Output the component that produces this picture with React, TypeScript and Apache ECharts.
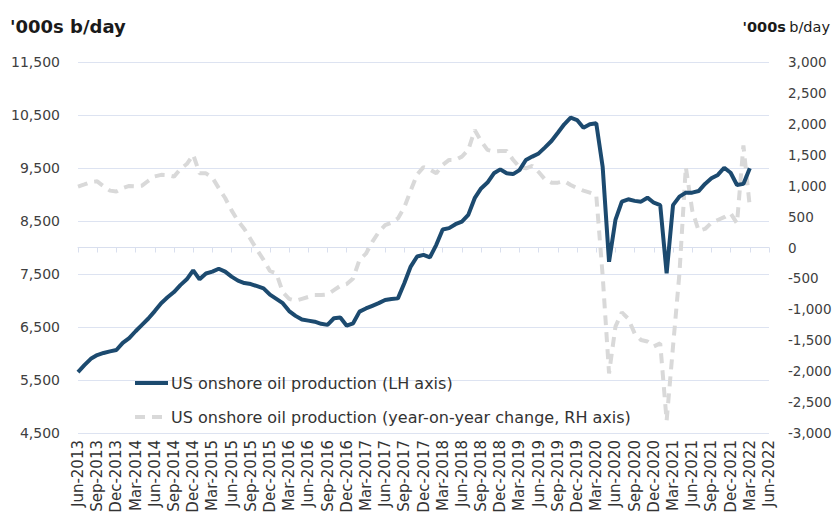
import React, { useEffect, useRef } from "react";
import * as echarts from "echarts";

const MONTH_NAMES = ["Jan", "Feb", "Mar", "Apr", "May", "Jun", "Jul", "Aug", "Sep", "Oct", "Nov", "Dec"];
// Monthly categories Jun-2013 .. Jun-2022
const months: string[] = [];
for (let y = 2013; y <= 2022; y++) {
  for (let m = 0; m < 12; m++) {
    if (y === 2013 && m < 5) continue;
    if (y === 2022 && m > 5) continue;
    months.push(`${MONTH_NAMES[m]}-${y}`);
  }
}

// US onshore oil production, '000s b/day (LH axis), Jun-2013 .. Mar-2022
const production: number[] = [
  5650, 5780, 5900, 5970, 6010, 6040, 6066, 6200, 6290, 6420,
  6540, 6660, 6800, 6950, 7060, 7160, 7290, 7400, 7570, 7400,
  7510, 7545, 7600, 7545, 7450, 7375, 7330, 7310, 7270, 7230,
  7110, 7030, 6950, 6800, 6710, 6640, 6620, 6600, 6560, 6540,
  6665, 6680, 6525, 6570, 6790, 6850, 6900, 6950, 7010, 7030,
  7040, 7325, 7640, 7830, 7860, 7815, 8050, 8340, 8365, 8440,
  8490, 8615, 8930, 9115, 9225, 9400, 9475, 9400, 9385, 9460,
  9650, 9715, 9775, 9890, 10010, 10165, 10325, 10450, 10405, 10260,
  10325, 10345, 9525, 7730, 8520, 8865, 8910, 8880, 8865, 8940,
  8845, 8800, 7515, 8800, 8960, 9035, 9035, 9065, 9200, 9305,
  9370, 9505, 9410, 9180, 9200, 9495,
];

// Year-on-year change, '000s b/day (RH axis)
const yoyChange: number[] = [
  984, 1020, 1060, 1070, 990, 920, 905, 960, 995, 990,
  1000, 1080, 1150, 1175, 1170, 1146, 1270, 1350, 1500, 1200,
  1200, 1130, 960, 800, 600, 430, 300, 130, -40, -200,
  -380, -420, -720, -830, -860, -830, -800, -770, -770, -760,
  -690, -620, -590, -500, -200, -100, 90, 250, 360, 400,
  470, 650, 920, 1180, 1300, 1260, 1200, 1335, 1416, 1416,
  1470, 1578, 1900, 1720, 1578, 1550, 1560, 1560, 1420, 1300,
  1281, 1320, 1220, 1100, 1049, 1049, 1075, 1011, 960, 919,
  887, 850, -450, -2036, -1280, -1050, -1150, -1389, -1497, -1520,
  -1600, -1550, -2800, -1600, -420, 1300, 600, 270, 300, 400,
  445, 490, 553, 391, 1650, 660,
];

const leftTicks = { min: 4500, max: 11500, interval: 1000 };
const rightTicks = { min: -3000, max: 3000, interval: 500 };

const seriesNames = [
  "US onshore oil production (LH axis)",
  "US onshore oil production (year-on-year change, RH axis)",
];

const BLUE = "#1c4a6f";
const GREY = "#d9d9d9";
const FONT = "DejaVu Sans";
const fmt = (v: number) => v.toLocaleString("en-US");

export default function App() {
  const ref = useRef<HTMLDivElement>(null);
  useEffect(() => {
    if (!ref.current) return;
    const chart = echarts.init(ref.current, undefined, { renderer: "svg" });
    const pad = (arr: number[]) => months.map((_, i) => (i < arr.length ? arr[i] : null));
    chart.setOption({
      animation: false,
      backgroundColor: "#ffffff",
      textStyle: { fontFamily: FONT },
      grid: { left: 78, right: 69, top: 62, bottom: 84, containLabel: false },
      legend: { show: false, data: seriesNames },
      graphic: [
        {
          type: "text",
          left: 10,
          top: 17,
          style: { text: "'000s b/day", font: `bold 18px '${FONT}'`, fill: "#1a1a1a" },
        },
        {
          type: "text",
          right: 8,
          top: 19,
          style: {
            text: "{b|'000s} {n|b/day}",
            rich: {
              b: { fontFamily: FONT, fontWeight: "bold", fontSize: 14.5, fill: "#1a1a1a" },
              n: { fontFamily: FONT, fontWeight: "normal", fontSize: 14.5, fill: "#1a1a1a" },
            },
          },
        },
        {
          type: "line",
          shape: { x1: 135, y1: 383, x2: 168, y2: 383 },
          style: { stroke: BLUE, lineWidth: 4 },
          z: 10,
        },
        {
          type: "text",
          x: 171,
          y: 383,
          style: {
            text: seriesNames[0],
            font: `16px '${FONT}'`,
            fill: "#333333",
            verticalAlign: "middle",
          },
          z: 10,
        },
        {
          type: "line",
          shape: { x1: 135, y1: 417, x2: 168, y2: 417 },
          style: { stroke: GREY, lineWidth: 4, lineDash: [10, 7] },
          z: 10,
        },
        {
          type: "text",
          x: 171,
          y: 417,
          style: {
            text: seriesNames[1],
            font: `16px '${FONT}'`,
            fill: "#333333",
            verticalAlign: "middle",
          },
          z: 10,
        },
      ],
      xAxis: {
        type: "category",
        data: months,
        boundaryGap: false,
        axisLine: { lineStyle: { color: "#d9dfee", width: 1 } },
        axisTick: { interval: 2, lineStyle: { color: "#d9dfee" }, length: 5 },
        axisLabel: {
          interval: 2,
          rotate: 90,
          fontFamily: FONT,
          fontSize: 15,
          color: "#333333",
          margin: 7,
        },
        splitLine: { show: false },
      },
      yAxis: [
        {
          type: "value",
          position: "left",
          min: leftTicks.min,
          max: leftTicks.max,
          interval: leftTicks.interval,
          axisLine: { show: false },
          axisTick: { show: false },
          axisLabel: { formatter: fmt, fontFamily: FONT, fontSize: 14, color: "#404040", margin: 18 },
          splitLine: { lineStyle: { color: "#dde3f1", width: 1 } },
        },
        {
          type: "value",
          position: "right",
          min: rightTicks.min,
          max: rightTicks.max,
          interval: rightTicks.interval,
          axisLine: { show: false },
          axisTick: { show: false },
          axisLabel: { formatter: fmt, fontFamily: FONT, fontSize: 13.5, color: "#404040", margin: 19 },
          splitLine: { show: false },
        },
      ],
      series: [
        {
          name: seriesNames[0],
          type: "line",
          yAxisIndex: 0,
          data: pad(production),
          symbol: "none",
          lineStyle: { color: BLUE, width: 4 },
          itemStyle: { color: BLUE },
          z: 3,
        },
        {
          name: seriesNames[1],
          type: "line",
          yAxisIndex: 1,
          data: pad(yoyChange),
          symbol: "none",
          lineStyle: { color: GREY, width: 4, type: [10, 7] },
          itemStyle: { color: GREY },
          z: 2,
        },
      ],
    });
    return () => chart.dispose();
  }, []);
  return (
    <div
      ref={ref}
      style={{ position: "absolute", left: 0, top: 0, width: 838, height: 517 }}
    />
  );
}
